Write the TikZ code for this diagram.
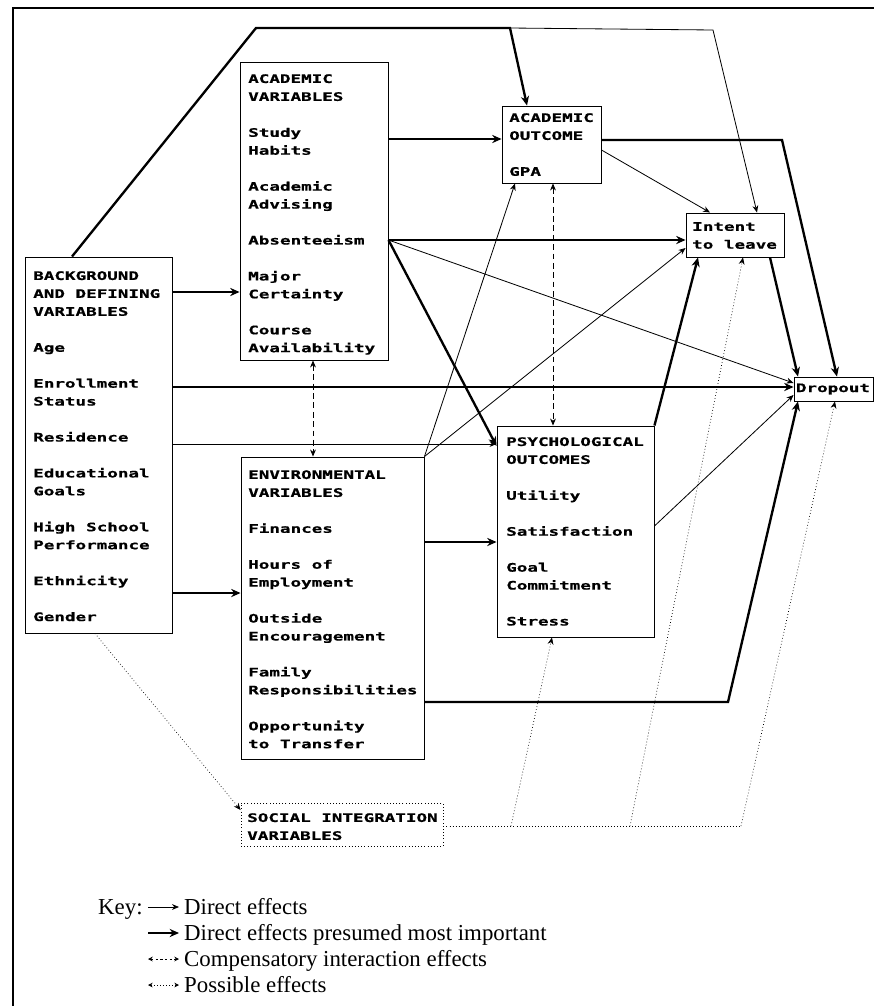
\documentclass[tikz,border=0pt]{standalone}
\usepackage{fontspec}
\setmainfont{Liberation Serif}
\newfontfamily\dm[FakeStretch=1.5, FakeBold=0.6]{DejaVu Sans Mono}
\usetikzlibrary{arrows.meta,calc,fit}
\begin{document}
\begin{tikzpicture}[x=0.03cm,y=-0.03cm,
  box/.style={draw, line width=0.8pt, inner sep=0pt},
  sbox/.style={draw, line width=0.7pt, dotted, inner sep=0pt},
  boxtext/.style={anchor=north west, inner sep=0pt, align=left,
    font=\dm\bfseries\fontsize{10}{15.3}\selectfont},
  thinA/.style={line width=0.7pt, -{Stealth[length=6pt,width=5pt]}},
  thickA/.style={line width=2pt, -{Stealth[length=8pt,width=7pt]}},
  comp/.style={line width=0.7pt, dash pattern=on 5pt off 3pt, {Stealth[length=6pt,width=5pt]}-{Stealth[length=6pt,width=5pt]}},
  possA/.style={line width=0.6pt, dotted, -{Stealth[length=6pt,width=5pt]}},
  possL/.style={line width=0.6pt, dotted},
  keytext/.style={anchor=base west, inner sep=0pt, font=\fontsize{19.5}{22}\selectfont}
]
\useasboundingbox (0,0) rectangle (874,1006);
\clip (0,0) rectangle (874,1006);

% frame
\draw[line width=1.6pt] (13,1010) -- (13,8) -- (880,8);

% boxes
\node[box, fit={(25,257)(172,633)}] (bg) {};
\node[box, fit={(240,62)(388,360)}] (acv) {};
\node[box, fit={(241,457)(424,759)}] (env) {};
\node[box, fit={(502,106)(601,183)}] (acout) {};
\node[box, fit={(686,213)(784,257)}] (int) {};
\node[box, fit={(794,377)(873,401)}] (drop) {};
\node[box, fit={(497,426)(654,637)}] (psy) {};
\node[sbox, fit={(241,803)(443,846)}] (soc) {};

% box texts
\node[boxtext] (bgt) at (33,271) {BACKGROUND\\AND DEFINING\\VARIABLES\\[0.54cm]Age\\[0.54cm]Enrollment\\Status\\[0.54cm]Residence\\[0.54cm]Educational\\Goals\\[0.54cm]High School\\Performance\\[0.54cm]Ethnicity\\[0.54cm]Gender};
\node[boxtext] (acvt) at (248,74) {ACADEMIC\\VARIABLES\\[0.54cm]Study\\Habits\\[0.54cm]Academic\\Advising\\[0.54cm]Absenteeism\\[0.54cm]Major\\Certainty\\[0.54cm]Course\\Availability};
\node[boxtext] (envt) at (248,470) {ENVIRONMENTAL\\VARIABLES\\[0.54cm]Finances\\[0.54cm]Hours of\\Employment\\[0.54cm]Outside\\Encouragement\\[0.54cm]Family\\Responsibilities\\[0.54cm]Opportunity\\to Transfer};
\node[boxtext] (acoutt) at (509,113) {ACADEMIC\\OUTCOME\\[0.54cm]GPA};
\node[boxtext] (intt) at (692,222) {Intent\\to leave};
\node[boxtext, anchor=center] (dropt) at (833,389) {Dropout};
\node[boxtext] (psyt) at (506,437) {PSYCHOLOGICAL\\OUTCOMES\\[0.54cm]Utility\\[0.54cm]Satisfaction\\[0.54cm]Goal\\Commitment\\[0.54cm]Stress};
\node[boxtext] (soct) at (247,813) {SOCIAL INTEGRATION\\VARIABLES};

% connectors
\coordinate (tj) at (510,28);
\draw[thickA] (72,0 |- bg.north) -- (256,28) -- (tj) -- (527,0 |- acout.north);
\draw[thinA] (tj) -- (713,30) -- (757,0 |- int.north);
\draw[thickA] (acv.east |- 0,139) -- (acout.west |- 0,139);
\draw[thickA] (bg.east |- 0,292) -- (acv.west |- 0,292);
\draw[thickA] (acv.east |- 0,240) -- (int.west |- 0,240);
\draw[thinA] (acv.east |- 0,240) -- (drop.west |- 0,383);
\draw[thickA] (acv.east |- 0,240) -- (psy.west |- 0,446);
\draw[thickA] (bg.east |- 0,387) -- (drop.west |- 0,387);
\draw[thinA] (bg.east |- 0,444) -- (psy.west |- 0,444);
\draw[thickA] (bg.east |- 0,593) -- (env.west |- 0,593);
\draw[thickA] (env.east |- 0,542) -- (psy.west |- 0,542);
\draw[thickA] (env.east |- 0,702) -- (728,702) -- (798,0 |- drop.south);
\draw[thickA] (psy.north east) -- (698,0 |- int.south);
\draw[thinA] (psy.east |- 0,526) -- (drop.west |- 0,395);
\draw[thinA] (env.north east) -- (515,0 |- acout.south);
\draw[thinA] (env.north east) -- (int.west |- 0,248);
\draw[thinA] (acout.east |- 0,150) -- (710,0 |- int.north);
\draw[thickA] (acout.east |- 0,140) -- (782,140) -- (837,0 |- drop.north);
\draw[thickA] (770,0 |- int.south) -- (798,0 |- drop.north);
\draw[comp] (313,0 |- acv.south) -- (313,0 |- env.north);
\draw[comp] (553,0 |- acout.south) -- (553,0 |- psy.north);

% possible effects (dotted)
\coordinate (sa) at (511,826);
\coordinate (sb) at (630,826);
\coordinate (sc) at (741,826);
\draw[possA] (95,0 |- bg.south) -- (soc.west |- 0,810);
\draw[possL] (soc.east |- sc) -- (sc);
\draw[possA] (sa) -- (552,0 |- psy.south);
\draw[possA] (sb) -- (743,0 |- int.south);
\draw[possA] (sc) -- (835,0 |- drop.south);

% key
\node[keytext] (key) at (98,914) {Key:};
\node[keytext] (k1) at (184,914) {Direct effects};
\node[keytext] (k2) at (184,940) {Direct effects presumed most important};
\node[keytext] (k3) at (184,966) {Compensatory interaction effects};
\node[keytext] (k4) at (184,992) {Possible effects};
\coordinate (a1) at (148,907); \coordinate (b1) at (179,907);
\coordinate (a2) at (148,933); \coordinate (b2) at (179,933);
\coordinate (a3) at (148,959); \coordinate (b3) at (179,959);
\coordinate (a4) at (148,985); \coordinate (b4) at (179,985);
\draw[thinA] (a1) -- (b1);
\draw[thickA] (a2) -- (b2);
\draw[line width=0.7pt, dash pattern=on 2pt off 2pt, {Stealth[length=4pt,width=4pt]}-{Stealth[length=4pt,width=4pt]}] (a3) -- (b3);
\draw[line width=0.6pt, dotted, {Stealth[length=4pt,width=4pt]}-{Stealth[length=4pt,width=4pt]}] (a4) -- (b4);
\end{tikzpicture}
\end{document}
